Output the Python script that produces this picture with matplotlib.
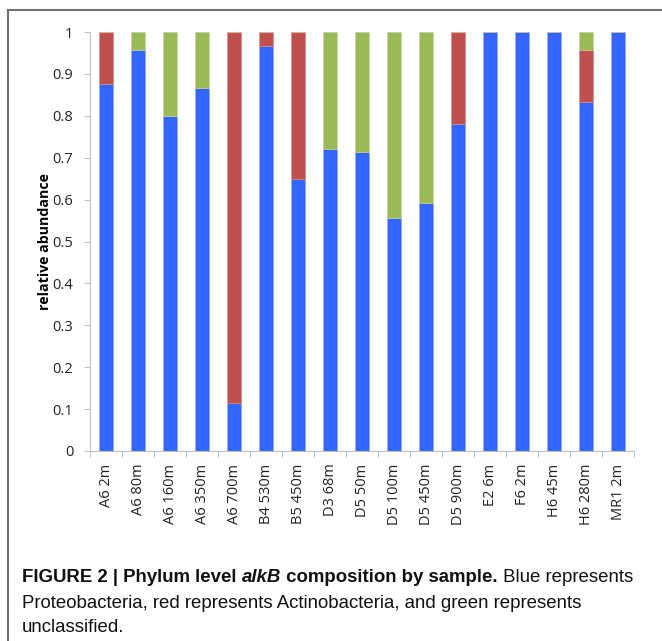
import matplotlib
matplotlib.use("Agg")
import matplotlib.pyplot as plt
import numpy as np

############### Data ###############
samples = ["A6 2m", "A6 80m", "A6 160m", "A6 350m", "A6 700m", "B4 530m",
           "B5 450m", "D3 68m", "D5 50m", "D5 100m", "D5 450m", "D5 900m",
           "E2 6m", "F6 2m", "H6 45m", "H6 280m", "MR1 2m"]
proteobacteria = [0.875, 0.958, 0.800, 0.867, 0.115, 0.967, 0.650, 0.720, 0.714,
                  0.556, 0.593, 0.780, 1.0, 1.0, 1.0, 0.833, 1.0]
actinobacteria = [0.125, 0.0, 0.0, 0.0, 0.885, 0.033, 0.350, 0.0, 0.0,
                  0.0, 0.0, 0.220, 0.0, 0.0, 0.0, 0.125, 0.0]
unclassified = [0.0, 0.042, 0.200, 0.133, 0.0, 0.0, 0.0, 0.280, 0.286,
                0.444, 0.407, 0.0, 0.0, 0.0, 0.0, 0.042, 0.0]
yticks = [0, 0.1, 0.2, 0.3, 0.4, 0.5, 0.6, 0.7, 0.8, 0.9, 1]
ytick_labels = ["0", "0.1", "0.2", "0.3", "0.4", "0.5", "0.6", "0.7", "0.8", "0.9", "1"]

# caption pieces: (text, weight, style)
caption_line1 = [("FIGURE 2 | Phylum level ", "bold", "normal"),
                 ("alkB", "bold", "italic"),
                 (" composition by sample.", "bold", "normal"),
                 (" Blue represents", "normal", "normal")]
caption_line2 = "Proteobacteria, red represents Actinobacteria, and green represents"
caption_line3 = "unclassified."

blue = "#3366FF"
red = "#C0504D"
green = "#9BBB59"

plt.rcParams['font.family'] = ['Open Sans', 'DejaVu Sans']

fig = plt.figure(figsize=(6.62, 6.41), dpi=100)

# outer frame (open on the right and bottom, like the journal page)
fig.add_artist(plt.Line2D([8 / 662, 1.0], [1 - 10 / 641, 1 - 10 / 641],
                          transform=fig.transFigure, color="#707070", linewidth=1.5))
fig.add_artist(plt.Line2D([8 / 662, 8 / 662], [0.0, 1 - 10 / 641],
                          transform=fig.transFigure, color="#707070", linewidth=1.5))

ax = fig.add_axes([90 / 662, 1 - 451 / 641, (634 - 90) / 662, (451 - 32) / 641])

x = np.arange(len(samples))
p = np.array(proteobacteria)
a = np.array(actinobacteria)
u = np.array(unclassified)
w = 0.44
ax.bar(x, p, width=w, color=blue, edgecolor="#8FA8FF", linewidth=0.4)
ax.bar(x, a, width=w, bottom=p, color=red, edgecolor="#D88A88", linewidth=0.4)
ax.bar(x, u, width=w, bottom=p + a, color=green, edgecolor="#C2D69B", linewidth=0.4)

ax.set_xlim(-0.5, len(samples) - 0.5)
ax.set_ylim(0, 1)

# axes styling like an Excel chart
for side in ["top", "right"]:
    ax.spines[side].set_visible(False)
ax.spines["left"].set_color("#BFBFBF")
ax.spines["bottom"].set_color("#BFBFBF")

ax.set_yticks(yticks)
ax.set_yticklabels(ytick_labels, fontsize=10.5, color="#222222")
ax.tick_params(axis="y", direction="out", length=4, color="#BFBFBF", pad=8)

# x ticks between categories, labels under the bars
ax.set_xticks(x)
ax.set_xticklabels(samples, rotation=90, fontsize=10.5, color="#222222")
ax.set_xticks(np.arange(len(samples) + 1) - 0.5, minor=True)
ax.tick_params(axis="x", which="major", length=0, pad=9)
ax.tick_params(axis="x", which="minor", direction="out", length=4, color="#BFBFBF")

ax.set_ylabel("relative abundance", fontsize=10.2, fontweight="bold", labelpad=0)

# figure caption, line 1 built piece by piece
cap_font = ['Liberation Sans Narrow', 'Liberation Sans', 'DejaVu Sans']
cap_size = 13.4
renderer = fig.canvas.get_renderer()
xpos = 22
for txt, weight, style in caption_line1:
    t = fig.text(xpos / 662, 1 - 577 / 641, txt, fontsize=cap_size, fontweight=weight,
                 fontstyle=style, family=cap_font, va="center", color="#111111")
    bb = t.get_window_extent(renderer=renderer)
    xpos = bb.x1
fig.text(22 / 662, 1 - 603 / 641, caption_line2, fontsize=cap_size, family=cap_font,
         va="center", color="#111111")
fig.text(22 / 662, 1 - 628 / 641, caption_line3, fontsize=cap_size, family=cap_font,
         va="center", color="#111111")

plt.savefig("out.png", dpi=100)
